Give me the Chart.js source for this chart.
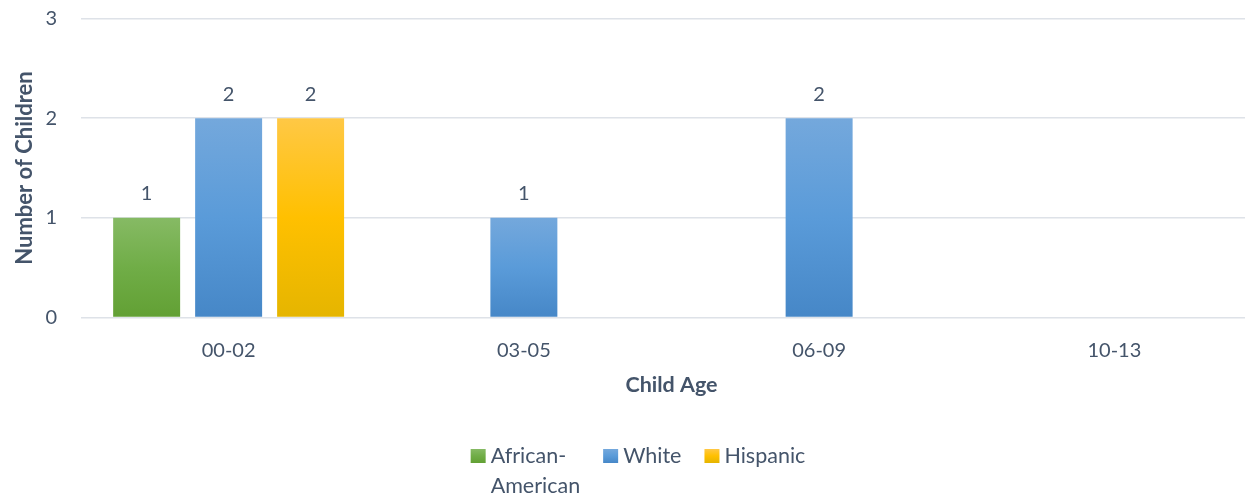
<!DOCTYPE html>
<html>
<head>
<meta charset="utf-8">
<script src="https://cdn.jsdelivr.net/npm/chart.js@4.4.1/dist/chart.umd.min.js"></script>
<style>
  html, body { margin: 0; padding: 0; background: #ffffff; overflow: hidden; width: 1245px; height: 494px; }
  #wrap { position: absolute; left: 0; top: 0; width: 1276px; height: 494px; }
</style>
</head>
<body>
<div id="wrap"><canvas id="c"></canvas></div>
<script>
// ---- data ----
const categories = ['00-02', '03-05', '06-09', '10-13'];
const seriesNames = ['African-American', 'White', 'Hispanic'];
const africanAmerican = [1, null, null, null];
const white = [2, 1, 2, null];
const hispanic = [2, null, null, null];
const yTicks = [0, 1, 2, 3];
const xTitle = 'Child Age';
const yTitle = 'Number of Children';

// ---- styles ----
const TEXT = '#44546A';
const FONT = 'Lato, "Open Sans", sans-serif';
const palettes = [
  ['#86BA64', '#70AD47', '#62A034'],
  ['#74A8DC', '#5A9BD9', '#4687C7'],
  ['#FFC845', '#FFC000', '#E5B500']
];

function gradientFill(stops) {
  return (ctx) => {
    const chart = ctx.chart;
    if (!chart.chartArea || ctx.raw == null) return stops[1];
    const ys = chart.scales.y;
    const top = ys.getPixelForValue(ctx.raw);
    const bot = ys.getPixelForValue(0);
    if (!isFinite(top) || !isFinite(bot) || top === bot) return stops[1];
    const g = chart.ctx.createLinearGradient(0, top, 0, bot);
    g.addColorStop(0, stops[0]);
    g.addColorStop(0.5, stops[1]);
    g.addColorStop(1, stops[2]);
    return g;
  };
}

const seriesValues = [africanAmerican, white, hispanic];
const datasets = seriesNames.map((name, i) => ({
  label: name,
  data: seriesValues[i],
  backgroundColor: gradientFill(palettes[i]),
  borderWidth: 0,
  categoryPercentage: 0.833,
  barPercentage: 0.817
}));

const valueLabels = {
  id: 'valueLabels',
  afterDatasetsDraw(chart) {
    const ctx = chart.ctx;
    ctx.save();
    ctx.font = '20px ' + FONT;
    ctx.fillStyle = TEXT;
    ctx.textAlign = 'center';
    ctx.textBaseline = 'middle';
    chart.data.datasets.forEach((ds, di) => {
      const meta = chart.getDatasetMeta(di);
      if (meta.hidden) return;
      meta.data.forEach((el, idx) => {
        const v = ds.data[idx];
        if (v == null) return;
        ctx.fillText(String(v), el.x, el.y - 24);
      });
    });
    ctx.restore();
  }
};

function splitLabel(t) {
  const k = t.indexOf('-');
  return k >= 0 ? [t.slice(0, k + 1), t.slice(k + 1)] : [t];
}

const customLegend = {
  id: 'customLegend',
  afterDraw(chart) {
    const ctx = chart.ctx;
    ctx.save();
    ctx.font = '21.5px ' + FONT;
    ctx.textBaseline = 'middle';
    ctx.textAlign = 'left';
    const items = chart.data.datasets.map((ds, i) => {
      const lines = splitLabel(ds.label);
      const w = Math.max(...lines.map(l => ctx.measureText(l).width));
      return { lines, w, pal: palettes[i] };
    });
    const box = 15, gapText = 5, gapItem = 23, lineStep = 30;
    const total = items.reduce((s, it) => s + box + gapText + it.w, 0) + gapItem * (items.length - 1);
    let x = chart.width / 2 - total / 2;
    const y0 = chart.height - 38;
    items.forEach(it => {
      const g = ctx.createLinearGradient(0, y0 - 7, 0, y0 + 7);
      g.addColorStop(0, it.pal[0]);
      g.addColorStop(0.5, it.pal[1]);
      g.addColorStop(1, it.pal[2]);
      ctx.fillStyle = g;
      ctx.fillRect(x, y0 - 7, box, 14);
      ctx.fillStyle = TEXT;
      it.lines.forEach((l, k) => ctx.fillText(l, x + box + gapText, y0 + k * lineStep));
      x += box + gapText + it.w + gapItem;
    });
    ctx.restore();
  }
};

new Chart(document.getElementById('c'), {
  type: 'bar',
  data: { labels: categories, datasets },
  plugins: [valueLabels, customLegend],
  options: {
    responsive: true,
    maintainAspectRatio: false,
    animation: false,
    layout: { padding: { left: 0, right: 14, top: 18.5, bottom: 95.6 } },
    scales: {
      x: {
        grid: { display: false, drawTicks: false },
        border: { display: false },
        ticks: { color: TEXT, font: { family: FONT, size: 20 }, padding: 21.5 },
        title: { display: true, text: xTitle, color: TEXT, font: { family: FONT, size: 21.5, weight: 'bold' }, padding: { top: 0, bottom: 0 } },
        afterFit: (s) => { s.height = 80.9; s.paddingLeft = 0; s.paddingRight = 0; }
      },
      y: {
        min: 0, max: 3,
        afterBuildTicks: (s) => { s.ticks = yTicks.map(v => ({ value: v })); },
        afterFit: (s) => { s.width = 81; s.paddingTop = 0; s.paddingBottom = 0; },
        grid: { color: '#DEE2E8', lineWidth: 1.5, drawTicks: false },
        border: { display: false },
        ticks: { color: TEXT, font: { family: FONT, size: 20 }, padding: 24 },
        title: { display: true, text: yTitle, color: TEXT, font: { family: FONT, size: 22, weight: 'bold' }, padding: { top: 12, bottom: 0 } }
      }
    },
    plugins: {
      tooltip: { enabled: false },
      legend: { display: false }
    }
  }
});
</script>
</body>
</html>
